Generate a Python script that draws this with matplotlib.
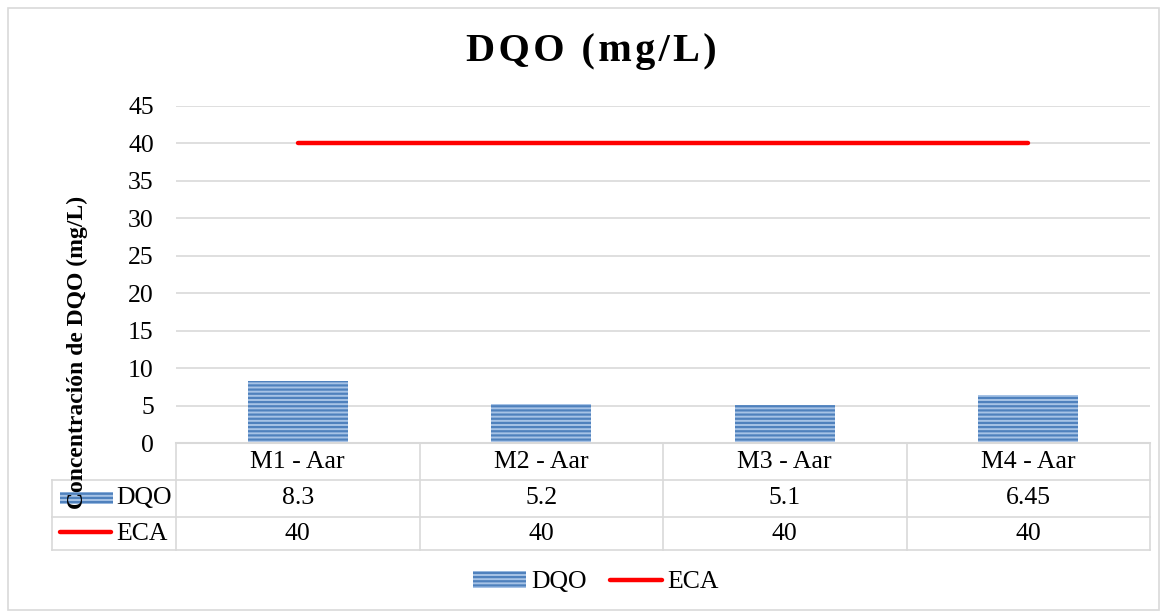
import matplotlib.pyplot as plt
from matplotlib.patches import Patch, Rectangle
from matplotlib.lines import Line2D

categories = ["M1 - Aar", "M2 - Aar", "M3 - Aar", "M4 - Aar"]
dqo = [8.3, 5.2, 5.1, 6.45]
eca = [40, 40, 40, 40]
dqo_labels = ["8.3", "5.2", "5.1", "6.45"]
eca_labels = ["40", "40", "40", "40"]

plt.rcParams["font.family"] = ["Liberation Serif", "DejaVu Serif"]
plt.rcParams["hatch.linewidth"] = 1.6

W, H = 1166, 615
fig = plt.figure(figsize=(W / 100, H / 100), dpi=100)

# plot area in pixels (left, top, right, bottom)
L, T, R, B = 176, 106, 1150, 443
ax = fig.add_axes([L / W, 1 - B / H, (R - L) / W, (B - T) / H])

BAR_FACE = "#a7c3e6"
BAR_HATCH = "#4f81bd"
GRID = "#d9d9d9"
FS = 18.5

x = list(range(len(categories)))
ax.bar(x, dqo, width=0.41, color=BAR_FACE, edgecolor=BAR_HATCH, hatch="----",
       linewidth=0, zorder=2)
ax.plot(x, eca, color="#ff0000", linewidth=3.2, solid_capstyle="round", zorder=3)

ax.set_xlim(-0.5, len(categories) - 0.5)
ax.set_ylim(0, 45)
ax.set_yticks(range(0, 46, 5))
ax.set_xticks([])
ax.tick_params(axis="y", length=0, labelsize=FS, pad=16)
ax.grid(axis="y", color=GRID, linewidth=1.2, zorder=0)
for s in ["top", "right", "left"]:
    ax.spines[s].set_visible(False)
ax.spines["bottom"].set_color(GRID)
ax.spines["bottom"].set_linewidth(1.5)


def fx(px):
    return px / W


def fy(py):
    return 1 - py / H


# title with a little letter spacing (hair spaces)
title = "\u200a".join("DQO (mg/L)")
fig.text(fx(591), fy(52), title, ha="center", va="center", fontsize=29,
         fontweight="bold")

fig.text(fx(77), fy(352), "Concentración de DQO (mg/L)", rotation=90, ha="center",
         va="center", fontsize=17, fontweight="bold")

# data table under the axis
rows = [443, 480, 517, 550]
col_edges = [L + (R - L) * i / len(categories) for i in range(len(categories) + 1)]
lab_left = 52
line_kw = dict(color=GRID, linewidth=1.2, transform=fig.transFigure)

for yy in rows[1:]:
    fig.add_artist(Line2D([fx(lab_left), fx(R)], [fy(yy)] * 2, **line_kw))
for xx in col_edges:
    fig.add_artist(Line2D([fx(xx)] * 2, [fy(rows[0]), fy(rows[3])], **line_kw))
fig.add_artist(Line2D([fx(lab_left)] * 2, [fy(rows[1]), fy(rows[3])], **line_kw))

for i, cat in enumerate(categories):
    cx = fx((col_edges[i] + col_edges[i + 1]) / 2)
    for row_i, txt in enumerate([cat, dqo_labels[i], eca_labels[i]]):
        cy = fy((rows[row_i] + rows[row_i + 1]) / 2)
        fig.text(cx, cy, txt, ha="center", va="center", fontsize=FS)

# row labels with legend keys
fig.add_artist(Rectangle((fx(60), fy(504)), fx(113) - fx(60), fy(492) - fy(504),
                         transform=fig.transFigure, facecolor=BAR_FACE,
                         edgecolor=BAR_HATCH, hatch="----", linewidth=0))
fig.text(fx(116), fy((rows[1] + rows[2]) / 2), "DQO", ha="left", va="center", fontsize=FS)
fig.add_artist(Line2D([fx(60), fx(111)], [fy(532)] * 2, color="#ff0000", linewidth=3.2,
                      solid_capstyle="round", transform=fig.transFigure))
fig.text(fx(116), fy((rows[2] + rows[3]) / 2), "ECA", ha="left", va="center", fontsize=FS)

# bottom legend
handles = [
    Patch(facecolor=BAR_FACE, edgecolor=BAR_HATCH, hatch="----", linewidth=0, label="DQO"),
    Line2D([0], [0], color="#ff0000", linewidth=3.2, solid_capstyle="round", label="ECA"),
]
fig.legend(handles=handles, loc="center", bbox_to_anchor=(fx(596), fy(582)), ncol=2,
           frameon=False, fontsize=FS, handlelength=2.05, handletextpad=0.2,
           columnspacing=0.9)

# outer chart border
fig.add_artist(Rectangle((fx(8), fy(610)), fx(1159) - fx(8), fy(8) - fy(610),
                         transform=fig.transFigure, fill=False, edgecolor=GRID,
                         linewidth=1.2))

fig.savefig("out.png", dpi=100)
